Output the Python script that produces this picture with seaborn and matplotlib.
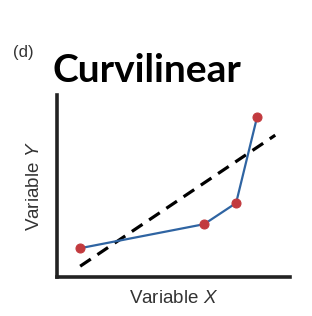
import numpy as np
import pandas as pd
import matplotlib
matplotlib.use('Agg')
import matplotlib.pyplot as plt
import seaborn as sns

# ================= data =================
x_points = [0.99, 6.31, 7.68, 8.58]
y_points = [1.59, 2.91, 4.07, 8.79]
fit_x = [0.99, 9.36]
fit_y = [0.60, 7.80]

TITLE = 'Curvilinear'
PANEL = '(d)'
X_LABEL = 'Variable $\\it{X}$'
Y_LABEL = 'Variable $\\it{Y}$'

sns.set_style("white")
plt.rcParams['font.family'] = ['Liberation Sans', 'DejaVu Sans']
plt.rcParams['mathtext.fontset'] = 'custom'
plt.rcParams['mathtext.it'] = 'Liberation Sans:italic'
plt.rcParams['mathtext.rm'] = 'Liberation Sans'

fig = plt.figure(figsize=(3.12, 3.16), dpi=100)
ax = fig.add_axes([0.183, 0.123, 0.747, 0.576])

df = pd.DataFrame({'x': x_points, 'y': y_points})
fit = pd.DataFrame({'x': fit_x, 'y': fit_y})

sns.lineplot(data=fit, x='x', y='y', ax=ax, color='black', linewidth=2.3,
             linestyle=(0, (4, 2.5)))
sns.lineplot(data=df, x='x', y='y', ax=ax, color='#2f64a2', linewidth=1.6,
             marker='o', markersize=6.5, markerfacecolor='#c23a3e',
             markeredgecolor='#c23a3e', zorder=3)

ax.set_xlim(0, 10)
ax.set_ylim(0, 10)
ax.set_xticks([])
ax.set_yticks([])
for side in ['top', 'right']:
    ax.spines[side].set_visible(False)
for side in ['left', 'bottom']:
    ax.spines[side].set_linewidth(2.6)
    ax.spines[side].set_color('#222222')

ax.set_xlabel(X_LABEL, fontsize=13.5, color='#333333', labelpad=9)
ax.set_ylabel(Y_LABEL, fontsize=13.5, color='#333333', labelpad=10)

fig.text(53 / 312, 1 - 82 / 316, TITLE, fontsize=28, fontweight='bold',
         color='black', family=['Lato', 'DejaVu Sans'], ha='left', va='baseline')
fig.text(13 / 312, 1 - 57 / 316, PANEL, fontsize=12, color='#333333',
         ha='left', va='baseline')

plt.savefig('out.png', dpi=100)
